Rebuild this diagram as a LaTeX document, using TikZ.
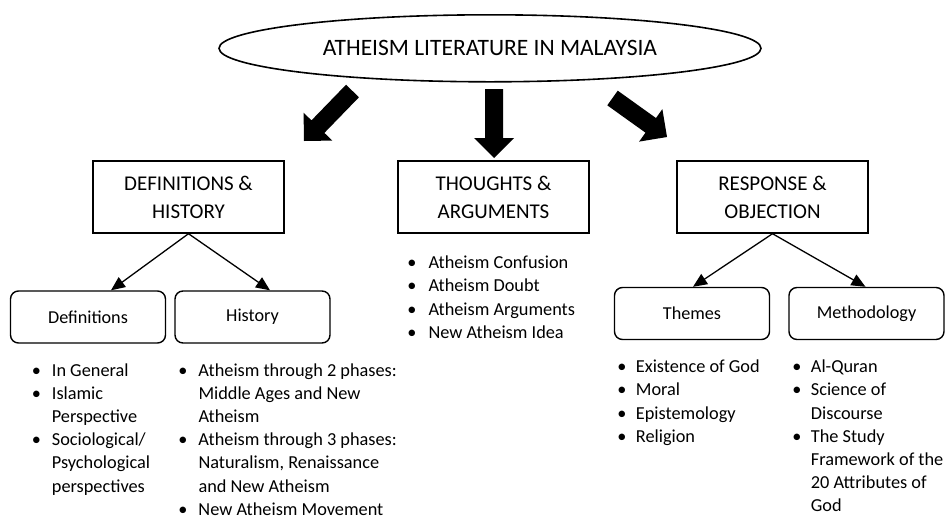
\documentclass[tikz,border=0pt]{standalone}
\usepackage{fontspec}
\setmainfont{Carlito}
\usetikzlibrary{shapes.geometric,calc,arrows.meta}
\newcommand\bul[1]{\llap{\makebox[0pt][c]{•}\hspace{#1pt}}}
\newcommand\fatarrow[3]{%
  \coordinate (#3) at ($(#2)!20pt!(#1)$);
  \fill ($(#1)!9pt!90:(#2)$) -- ($(#3)!9pt!90:(#2)$) -- ($(#3)!20pt!90:(#2)$) -- (#2)
     -- ($(#3)!20pt!-90:(#2)$) -- ($(#3)!9pt!-90:(#2)$) -- ($(#1)!9pt!-90:(#2)$) -- cycle;
}
\begin{document}
\begin{tikzpicture}[x=1pt,y=-1pt,
  titlebox/.style={ellipse, draw, line width=1.6pt, minimum width=542pt, minimum height=67pt, inner sep=0pt, font=\fontsize{23.5}{28}\selectfont},
  mainbox/.style={draw, line width=1.4pt, minimum width=191pt, minimum height=72pt, inner sep=0pt, align=center, font=\fontsize{21}{28}\selectfont},
  subbox/.style={draw, line width=1.4pt, rounded corners=8pt, minimum width=155pt, minimum height=52pt, inner sep=0pt, font=\fontsize{18.2}{22}\selectfont},
  link/.style={line width=1.3pt, -{Triangle[length=14pt,width=12pt]}},
  listnode/.style={anchor=base west, inner sep=0pt, font=\fontsize{18.3}{23.2}\selectfont}
]
\useasboundingbox (0,0) rectangle (945,515);

\node[titlebox] (title) at (490,48.3) {ATHEISM LITERATURE IN MALAYSIA};

\node[mainbox] (dh) at (188.5,197) {DEFINITIONS \&\\HISTORY};
\node[mainbox] (ta) at (493.5,197) {THOUGHTS \&\\ARGUMENTS};
\node[mainbox] (ro) at (772.5,197) {RESPONSE \&\\OBJECTION};

\node[subbox] (defs) at (88,317) {Definitions};
\node[subbox] (hist) at (252.5,317) {History};
\node[subbox] (themes) at (692,313.5) {Themes};
\node[subbox] (meth) at (866.5,313.5) {Methodology};

% block arrows
\coordinate (a1t) at (352.5,91);  \coordinate (a1p) at (304,141);
\coordinate (a2t) at (494,89);    \coordinate (a2p) at (494,158);
\coordinate (a3t) at (612.5,98);  \coordinate (a3p) at (667,137);
\fatarrow{a1t}{a1p}{a1b}
\fatarrow{a2t}{a2p}{a2b}
\fatarrow{a3t}{a3p}{a3b}

% connectors
\draw[link] (dh.south) -- ([xshift=23pt]defs.north);
\draw[link] (dh.south) -- ([xshift=17.5pt]hist.north);
\draw[link] (ro.south) -- ([xshift=1pt]themes.north);
\draw[link] (ro.south) -- ([xshift=-1pt]meth.north);

% lists
\node[listnode] (l1) at (51.7,376) {\begin{tabular}[t]{@{}l@{}}
\bul{15.4}In General\\
\bul{15.4}Islamic\\
Perspective\\
\bul{15.4}Sociological/\\
Psychological\\
perspectives
\end{tabular}};

\node[listnode] (l2) at (198.3,376) {\begin{tabular}[t]{@{}l@{}}
\bul{15.6}Atheism through 2 phases:\\
Middle Ages and New\\
Atheism\\
\bul{15.6}Atheism through 3 phases:\\
Naturalism, Renaissance\\
and New Atheism\\
\bul{15.6}New Atheism Movement
\end{tabular}};

\node[listnode] (l3) at (428.3,268.7) {\begin{tabular}[t]{@{}l@{}}
\bul{16.6}Atheism Confusion\\
\bul{16.6}Atheism Doubt\\
\bul{16.6}Atheism Arguments\\
\bul{16.6}New Atheism Idea
\end{tabular}};

\node[listnode] (l4) at (635.7,372.7) {\begin{tabular}[t]{@{}l@{}}
\bul{14}Existence of God\\
\bul{14}Moral\\
\bul{14}Epistemology\\
\bul{14}Religion
\end{tabular}};

\node[listnode] (l5) at (810.7,372.7) {\begin{tabular}[t]{@{}l@{}}
\bul{14}Al-Quran\\
\bul{14}Science of\\
Discourse\\
\bul{14}The Study\\
Framework of the\\
20 Attributes of\\
God
\end{tabular}};
\end{tikzpicture}
\end{document}
